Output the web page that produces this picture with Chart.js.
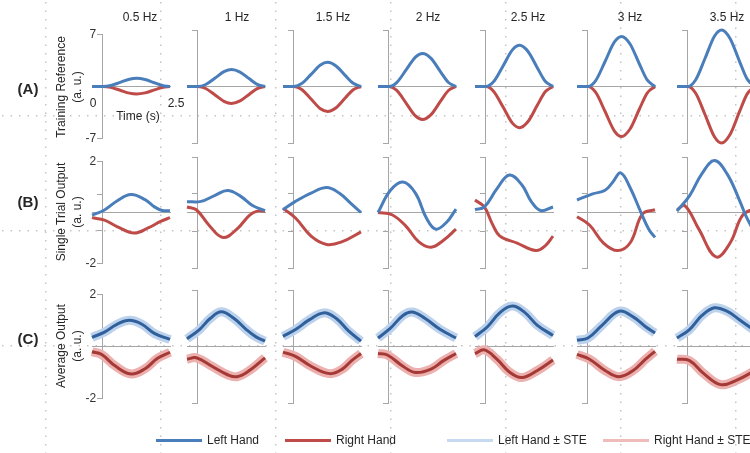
<!DOCTYPE html>
<html>
<head>
<meta charset="utf-8">
<script src="https://cdn.jsdelivr.net/npm/chart.js@4.4.1/dist/chart.umd.min.js"></script>
<style>
    body { margin: 0; background: #fff; }
    #fig { position: relative; width: 750px; height: 453px; overflow: hidden; background: #fff;
           font-family: Arial, "Liberation Sans", sans-serif; color: #262626; }
    #fig canvas { position: absolute; }
    .t { position: absolute; font-size: 12px; white-space: nowrap; transform: translate(-50%, -50%); }
    .rl { position: absolute; font-size: 15px; font-weight: bold; transform: translate(-50%, -50%); }
    .yt { position: absolute; font-size: 12px; white-space: nowrap; transform: translate(-50%, -50%) rotate(-90deg); }
    .lg { position: absolute; top: 440px; font-size: 12px; white-space: nowrap; display: flex; align-items: center; transform: translateY(-50%); }
    .lg i { display: inline-block; width: 46px; height: 3px; margin-right: 5px; }
</style>
</head>
<body>
<div id="fig"><canvas id="bg" width="750" height="453" style="left:0;top:0"></canvas></div>
<script>
// Column / row labels
const freqLabels = ['0.5 Hz', '1 Hz', '1.5 Hz', '2 Hz', '2.5 Hz', '3 Hz', '3.5 Hz'];
const rowLetters = ['(A)', '(B)', '(C)'];
const rowTitles = ['Training Reference', 'Single Trial Output', 'Average Output'];
const seriesNames = ['Left Hand', 'Right Hand', 'Left Hand \u00b1 STE', 'Right Hand \u00b1 STE'];

// Axis ranges and ticks per row
const rowMin = [-7, -2, -2];
const rowMax = [7, 2, 2];
const rowTicks = [[-7, 7], [-2, -0.7, 0.7, 2], [-2, 2]];
const timeLabels = ['0', '2.5'];

// (A) Training reference: shared time points (s)
const refTime = [0, 0.35, 0.6, 0.9, 1.2, 1.43, 1.7, 2.0, 2.25, 2.5];
const refLeft = [
    [0, 0, 0.13, 0.55, 0.98, 1.1, 0.94, 0.5, 0.14, 0],
    [0, 0, 0.25, 1.05, 1.87, 2.1, 1.79, 0.95, 0.27, 0],
    [0, 0, 0.36, 1.5, 2.67, 3.0, 2.55, 1.35, 0.39, 0],
    [0, 0, 0.49, 2.05, 3.65, 4.1, 3.49, 1.85, 0.53, 0],
    [0, 0, 0.61, 2.55, 4.54, 5.1, 4.34, 2.3, 0.66, 0],
    [0, 0, 0.74, 3.1, 5.52, 6.2, 5.27, 2.79, 0.81, 0],
    [0, 0, 0.84, 3.5, 6.23, 7.0, 5.95, 3.15, 0.91, 0]
];
const refRight = [
    [0, 0, -0.12, -0.5, -0.89, -1.0, -0.85, -0.45, -0.13, 0],
    [0, 0, -0.25, -1.05, -1.87, -2.1, -1.79, -0.95, -0.27, 0],
    [0, 0, -0.37, -1.55, -2.76, -3.1, -2.64, -1.4, -0.4, 0],
    [0, 0, -0.49, -2.05, -3.65, -4.1, -3.49, -1.85, -0.53, 0],
    [0, 0, -0.61, -2.55, -4.54, -5.1, -4.34, -2.3, -0.66, 0],
    [0, 0, -0.74, -3.1, -5.52, -6.2, -5.27, -2.79, -0.81, 0],
    [0, 0, -0.84, -3.5, -6.23, -7.0, -5.95, -3.15, -0.91, 0]
];

// (B) Single trial output: [time, value]
const singleLeft = [
    [[0, -0.1], [0.4, 0.1], [0.8, 0.45], [1.25, 0.7], [1.7, 0.5], [2.0, 0.22], [2.25, 0.08], [2.5, 0.07]],
    [[0, 0.39], [0.45, 0.4], [0.9, 0.62], [1.3, 0.79], [1.7, 0.6], [2.1, 0.25], [2.5, 0.07]],
    [[0, 0.1], [0.4, 0.4], [0.9, 0.7], [1.4, 0.9], [1.8, 0.7], [2.2, 0.3], [2.5, 0]],
    [[0, 0], [0.4, 0.8], [0.8, 1.1], [1.2, 0.7], [1.55, -0.2], [1.85, -0.6], [2.2, -0.35], [2.5, 0.12]],
    [[0, 0.1], [0.3, 0.2], [0.7, 0.85], [1.1, 1.35], [1.5, 1.0], [1.8, 0.4], [2.1, 0.07], [2.5, 0.2]],
    [[0, 0.45], [0.5, 0.67], [0.9, 0.8], [1.15, 1.1], [1.4, 1.43], [1.7, 0.9], [2.05, 0], [2.3, -0.6], [2.5, -0.9]],
    [[0, 0.05], [0.4, 0.6], [0.8, 1.4], [1.2, 1.87], [1.6, 1.4], [2.0, 0.45], [2.2, -0.1], [2.5, -0.75]]
];
const singleRight = [
    [[0, -0.2], [0.4, -0.3], [0.8, -0.55], [1.35, -0.8], [1.8, -0.6], [2.2, -0.35], [2.5, -0.2]],
    [[0, 0.2], [0.3, 0.1], [0.7, -0.45], [1.15, -0.9], [1.6, -0.6], [2.0, -0.1], [2.25, 0.05], [2.5, 0.05]],
    [[0, 0.15], [0.4, -0.2], [0.9, -0.85], [1.4, -1.15], [1.9, -1.05], [2.5, -0.7]],
    [[0, 0], [0.45, -0.08], [0.9, -0.5], [1.3, -1.05], [1.7, -1.25], [2.1, -1.0], [2.5, -0.6]],
    [[0, 0.45], [0.3, 0.2], [0.55, -0.4], [0.8, -0.85], [1.35, -1.1], [1.95, -1.37], [2.25, -1.2], [2.5, -0.85]],
    [[0, -0.15], [0.4, -0.45], [0.85, -1.1], [1.3, -1.37], [1.7, -1.1], [2.1, -0.05], [2.5, 0.1]],
    [[0, 0.1], [0.25, 0.25], [0.7, -0.6], [1.25, -1.6], [1.7, -1.1], [2.1, -0.1], [2.5, 0.15]]
];

// (C) Average output: [time, value]
const avgLeft = [
    [[0, 0.35], [0.4, 0.55], [0.8, 0.85], [1.2, 1.0], [1.6, 0.85], [2.0, 0.5], [2.5, 0.27]],
    [[0, 0.27], [0.4, 0.6], [0.75, 1.0], [1.1, 1.23], [1.5, 1.0], [1.9, 0.6], [2.2, 0.35], [2.5, 0.19]],
    [[0, 0.36], [0.4, 0.6], [0.85, 0.95], [1.3, 1.19], [1.7, 1.0], [2.1, 0.55], [2.5, 0.19]],
    [[0, 0.3], [0.4, 0.65], [0.8, 1.1], [1.1, 1.22], [1.5, 1.0], [2.0, 0.6], [2.5, 0.3]],
    [[0, 0.35], [0.4, 0.7], [0.8, 1.2], [1.2, 1.43], [1.6, 1.2], [2.0, 0.75], [2.5, 0.39]],
    [[0, 0.22], [0.35, 0.3], [0.8, 0.75], [1.35, 1.25], [1.8, 1.05], [2.2, 0.7], [2.5, 0.48]],
    [[0, 0.3], [0.4, 0.6], [0.8, 1.1], [1.2, 1.37], [1.6, 1.25], [2.0, 0.95], [2.5, 0.55]]
];
const avgRight = [
    [[0, -0.2], [0.3, -0.3], [0.75, -0.75], [1.25, -1.05], [1.7, -0.85], [2.1, -0.45], [2.5, -0.22]],
    [[0, -0.45], [0.3, -0.4], [0.8, -0.7], [1.3, -1.0], [1.6, -1.07], [2.0, -0.85], [2.5, -0.4]],
    [[0, -0.2], [0.4, -0.35], [0.9, -0.7], [1.5, -0.96], [1.9, -0.8], [2.2, -0.5], [2.5, -0.25]],
    [[0, -0.25], [0.3, -0.3], [0.8, -0.7], [1.2, -0.92], [1.7, -0.8], [2.1, -0.5], [2.5, -0.25]],
    [[0, -0.25], [0.3, -0.12], [0.7, -0.45], [1.1, -0.9], [1.5, -1.1], [2.0, -0.85], [2.5, -0.48]],
    [[0, -0.28], [0.4, -0.45], [0.9, -0.85], [1.35, -1.07], [1.8, -0.85], [2.2, -0.45], [2.5, -0.17]],
    [[0, -0.45], [0.4, -0.5], [0.85, -0.95], [1.4, -1.35], [1.9, -1.2], [2.5, -0.85]]
];

// Layout (pixels)
const colStart = [92, 187, 283, 378, 475, 577, 677];
const titleX = [140, 237, 333, 428, 528, 630, 727];
const rowTop = [30, 157, 290];
const rowBottom = [143, 268, 403];
const SPAN = 78;
const AXIS_T = 0.35;
const PAD = { left: 30, right: 14, top: 12, bottom: 12 };

const BLUE = '#4a7ebb', RED = '#be4b48';
const BLUE_DARK = '#30609c', RED_DARK = '#a53936';
const BLUE_LIGHT = '#bcd2ec', RED_LIGHT = '#ecb0af';
const GRAY = '#a6a6a6';

Chart.defaults.font.family = 'Arial, "Liberation Sans", sans-serif';
Chart.defaults.font.size = 12;
Chart.defaults.color = '#333';

const fig = document.getElementById('fig');

// Dotted layout guides in the background
const bg = document.getElementById('bg').getContext('2d');
bg.fillStyle = '#c4c4c4';
[45, 160, 275, 390, 505, 620, 735].forEach(x => {
    for (let y = 2; y < 453; y += 8.5) bg.fillRect(x, y, 1.5, 1.5);
});
[115, 230, 345].forEach(y => {
    for (let x = 2; x < 750; x += 8.5) bg.fillRect(x, y, 1.5, 1.5);
});

const toXY = arr => arr.map(p => ({ x: p[0], y: p[1] }));

// smooth = true uses a cardinal spline, otherwise monotone (keeps flat parts flat)
const line = (data, color, width, smooth) => ({
    data: data,
    borderColor: color,
    borderWidth: width,
    pointRadius: 0,
    fill: false,
    clip: false,
    cubicInterpolationMode: smooth ? 'default' : 'monotone',
    tension: 0.4
});

const makePanel = (row, col, datasets) => {
    const cv = document.createElement('canvas');
    cv.width = SPAN + PAD.left + PAD.right;
    cv.height = rowBottom[row] - rowTop[row] + PAD.top + PAD.bottom;
    cv.style.left = (colStart[col] - PAD.left) + 'px';
    cv.style.top = (rowTop[row] - PAD.top) + 'px';
    fig.appendChild(cv);

    new Chart(cv, {
        type: 'line',
        data: { datasets: datasets },
        options: {
            responsive: false,
            animation: false,
            devicePixelRatio: 1,
            layout: { padding: PAD },
            plugins: { legend: { display: false }, tooltip: { enabled: false } },
            scales: {
                x: {
                    type: 'linear', min: 0, max: 2.5,
                    position: { y: 0 },
                    grid: { display: false },
                    ticks: { display: false },
                    border: { color: GRAY, width: 1 }
                },
                y: {
                    type: 'linear', min: rowMin[row], max: rowMax[row],
                    position: { x: AXIS_T },
                    afterBuildTicks: axis => { axis.ticks = rowTicks[row].map(v => ({ value: v })); },
                    ticks: {
                        display: col === 0,
                        padding: 9,
                        color: '#333',
                        // trailing spaces keep the label clear of the axis line
                        callback: v => Math.abs(v) === rowMax[row] ? String(v) + '  ' : ''
                    },
                    grid: { drawOnChartArea: false, drawTicks: true, tickLength: 5, color: GRAY, lineWidth: 1 },
                    border: { color: GRAY, width: 1 }
                }
            }
        }
    });
};

freqLabels.forEach((label, c) => {
    const refL = refTime.map((t, i) => ({ x: t, y: refLeft[c][i] }));
    const refR = refTime.map((t, i) => ({ x: t, y: refRight[c][i] }));
    makePanel(0, c, [line(refL, BLUE, 3, false), line(refR, RED, 3, false)]);
    makePanel(1, c, [line(toXY(singleLeft[c]), BLUE, 3, true), line(toXY(singleRight[c]), RED, 3, true)]);
    makePanel(2, c, [
        line(toXY(avgLeft[c]), BLUE_DARK, 3, true),
        line(toXY(avgRight[c]), RED_DARK, 3, true),
        line(toXY(avgLeft[c]), BLUE_LIGHT, 9, true),
        line(toXY(avgRight[c]), RED_LIGHT, 9, true)
    ]);
});

// Text annotations
const addText = (cls, text, x, y) => {
    const d = document.createElement('div');
    d.className = cls;
    d.textContent = text;
    d.style.left = x + 'px';
    d.style.top = y + 'px';
    fig.appendChild(d);
};

freqLabels.forEach((label, c) => addText('t', label, titleX[c], 17));

const rowMid = [87, 212, 346];
const letterY = [88, 201, 338];
rowLetters.forEach((l, r) => {
    addText('rl', l, 28, letterY[r]);
    addText('yt', rowTitles[r], 61, rowMid[r]);
    addText('yt', '(a. u.)', 77, rowMid[r]);
});

addText('t', timeLabels[0], 93, 103);
addText('t', timeLabels[1], 176, 103);
addText('t', 'Time (s)', 138, 116);

// Legend
const legendX = [156, 285, 447, 603];
const legendColors = [BLUE, RED, '#c6d9f1', '#efbcbb'];
seriesNames.forEach((name, i) => {
    const d = document.createElement('div');
    d.className = 'lg';
    d.style.left = legendX[i] + 'px';
    const sw = document.createElement('i');
    sw.style.background = legendColors[i];
    d.appendChild(sw);
    d.appendChild(document.createTextNode(name));
    fig.appendChild(d);
});
</script>
</body>
</html>
